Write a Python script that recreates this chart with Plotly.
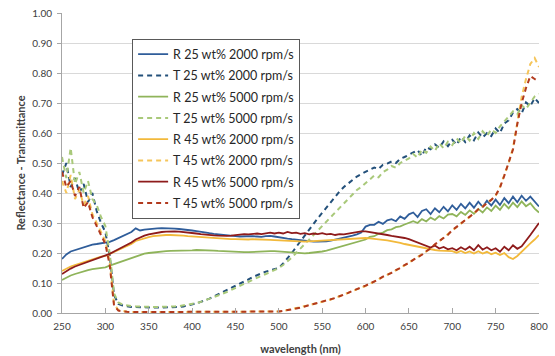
import plotly.graph_objects as go

wavelength = list(range(250, 801, 5))

R25_2000 = [0.180,0.195,0.205,0.210,0.215,0.220,0.225,0.228,0.230,0.232,
 0.233,0.237,0.243,0.250,0.258,0.265,0.270,0.282,0.275,0.278,
 0.280,0.281,0.282,0.283,0.283,0.282,0.281,0.280,0.279,0.277,
 0.275,0.273,0.270,0.268,0.266,0.264,0.262,0.260,0.258,0.257,
 0.256,0.255,0.256,0.257,0.256,0.255,0.254,0.256,0.257,0.255,
 0.252,0.250,0.248,0.246,0.244,0.242,0.240,0.239,0.238,0.238,
 0.238,0.239,0.241,0.244,0.247,0.250,0.254,0.258,0.262,0.268,
 0.288,0.294,0.294,0.304,0.297,0.309,0.313,0.306,0.322,0.314,
 0.329,0.335,0.320,0.340,0.346,0.330,0.349,0.336,0.354,0.339,
 0.359,0.344,0.364,0.349,0.368,0.351,0.371,0.354,0.374,0.358,
 0.378,0.360,0.383,0.366,0.388,0.369,0.391,0.374,0.388,0.370,
 0.355]

T25_2000 = [0.460,0.500,0.420,0.450,0.400,0.430,0.370,0.400,0.340,0.300,
 0.270,0.190,0.060,0.030,0.025,0.022,0.020,0.020,0.019,0.019,
 0.018,0.018,0.018,0.018,0.018,0.018,0.019,0.020,0.022,0.025,
 0.028,0.032,0.037,0.042,0.048,0.055,0.062,0.068,0.075,0.082,
 0.090,0.097,0.104,0.112,0.120,0.125,0.132,0.138,0.142,0.146,
 0.150,0.165,0.182,0.200,0.220,0.240,0.260,0.280,0.298,0.316,
 0.334,0.352,0.370,0.390,0.405,0.420,0.432,0.445,0.455,0.463,
 0.470,0.476,0.485,0.480,0.494,0.498,0.505,0.500,0.514,0.520,
 0.527,0.534,0.543,0.524,0.553,0.546,0.562,0.551,0.572,0.556,
 0.577,0.561,0.587,0.570,0.592,0.576,0.602,0.585,0.600,0.590,
 0.615,0.600,0.632,0.642,0.668,0.680,0.665,0.702,0.690,0.716,
 0.700]

R25_5000 = [0.110,0.118,0.125,0.130,0.135,0.140,0.143,0.146,0.148,0.150,
 0.152,0.158,0.163,0.168,0.173,0.178,0.183,0.190,0.195,0.198,
 0.200,0.202,0.204,0.205,0.206,0.207,0.207,0.208,0.208,0.209,
 0.209,0.210,0.210,0.210,0.209,0.208,0.207,0.206,0.205,0.205,
 0.204,0.204,0.203,0.203,0.204,0.204,0.205,0.205,0.206,0.206,
 0.205,0.204,0.203,0.202,0.200,0.200,0.199,0.200,0.201,0.203,
 0.205,0.208,0.212,0.216,0.220,0.224,0.228,0.232,0.236,0.240,
 0.245,0.254,0.256,0.264,0.268,0.276,0.279,0.286,0.289,0.295,
 0.300,0.306,0.300,0.313,0.305,0.318,0.310,0.323,0.315,0.328,
 0.330,0.322,0.337,0.327,0.342,0.331,0.347,0.335,0.352,0.340,
 0.358,0.344,0.364,0.349,0.368,0.353,0.372,0.356,0.366,0.348,
 0.335]

T25_5000 = [0.520,0.450,0.550,0.430,0.470,0.400,0.440,0.380,0.360,0.320,
 0.290,0.200,0.065,0.035,0.028,0.025,0.023,0.022,0.021,0.020,
 0.020,0.020,0.020,0.020,0.020,0.021,0.022,0.023,0.025,0.027,
 0.030,0.033,0.037,0.042,0.047,0.052,0.058,0.064,0.070,0.077,
 0.084,0.090,0.097,0.104,0.110,0.117,0.124,0.130,0.137,0.143,
 0.150,0.160,0.172,0.185,0.200,0.215,0.230,0.245,0.260,0.275,
 0.290,0.305,0.320,0.335,0.350,0.365,0.380,0.395,0.410,0.420,
 0.432,0.445,0.458,0.452,0.470,0.478,0.490,0.484,0.500,0.508,
 0.515,0.530,0.518,0.545,0.534,0.555,0.540,0.566,0.549,0.571,
 0.560,0.582,0.566,0.591,0.575,0.600,0.580,0.606,0.590,0.612,
 0.600,0.622,0.640,0.656,0.672,0.662,0.692,0.680,0.702,0.722,
 0.730]

R45_2000 = [0.140,0.148,0.155,0.160,0.165,0.170,0.175,0.180,0.184,0.188,
 0.190,0.196,0.203,0.210,0.217,0.224,0.230,0.240,0.245,0.250,
 0.253,0.256,0.258,0.259,0.260,0.260,0.260,0.259,0.258,0.256,
 0.255,0.253,0.252,0.250,0.249,0.248,0.247,0.247,0.246,0.246,
 0.246,0.245,0.245,0.245,0.246,0.246,0.245,0.244,0.244,0.243,
 0.242,0.241,0.240,0.240,0.239,0.238,0.238,0.239,0.240,0.241,
 0.242,0.243,0.244,0.245,0.246,0.247,0.248,0.249,0.250,0.250,
 0.250,0.249,0.248,0.246,0.244,0.242,0.240,0.237,0.234,0.230,
 0.227,0.224,0.220,0.218,0.215,0.212,0.210,0.208,0.207,0.205,
 0.206,0.201,0.207,0.200,0.205,0.198,0.206,0.198,0.204,0.196,
 0.201,0.193,0.200,0.186,0.180,0.190,0.205,0.218,0.232,0.245,
 0.260]

T45_2000 = [0.440,0.400,0.460,0.380,0.410,0.360,0.390,0.330,0.300,0.270,
 0.240,0.170,0.030,0.010,0.006,0.004,0.003,0.003,0.003,0.003,
 0.003,0.003,0.003,0.003,0.003,0.003,0.003,0.003,0.003,0.003,
 0.003,0.003,0.003,0.003,0.003,0.003,0.003,0.003,0.003,0.003,
 0.003,0.003,0.003,0.003,0.003,0.003,0.003,0.003,0.004,0.004,
 0.005,0.007,0.010,0.012,0.015,0.018,0.022,0.026,0.030,0.033,
 0.037,0.041,0.045,0.050,0.055,0.061,0.067,0.073,0.080,0.085,
 0.090,0.097,0.105,0.112,0.120,0.127,0.135,0.142,0.150,0.159,
 0.168,0.176,0.185,0.195,0.205,0.216,0.228,0.240,0.250,0.262,
 0.275,0.288,0.298,0.310,0.320,0.333,0.345,0.355,0.365,0.378,
 0.390,0.420,0.460,0.500,0.550,0.640,0.720,0.780,0.830,0.850,
 0.820]

R45_5000 = [0.130,0.140,0.148,0.155,0.160,0.165,0.170,0.175,0.180,0.185,
 0.190,0.197,0.205,0.212,0.220,0.228,0.235,0.245,0.252,0.258,
 0.262,0.265,0.268,0.270,0.271,0.272,0.272,0.271,0.270,0.268,
 0.267,0.265,0.263,0.261,0.260,0.259,0.258,0.257,0.257,0.258,
 0.260,0.262,0.263,0.262,0.264,0.265,0.263,0.266,0.268,0.265,
 0.268,0.265,0.270,0.266,0.268,0.264,0.266,0.262,0.265,0.263,
 0.266,0.262,0.264,0.260,0.263,0.262,0.265,0.268,0.270,0.272,
 0.272,0.270,0.268,0.265,0.262,0.260,0.257,0.255,0.252,0.250,
 0.246,0.240,0.235,0.228,0.222,0.218,0.225,0.215,0.220,0.212,
 0.216,0.209,0.219,0.211,0.221,0.209,0.226,0.211,0.219,0.209,
 0.216,0.204,0.221,0.209,0.226,0.214,0.222,0.240,0.260,0.280,
 0.300]

T45_5000 = [0.470,0.420,0.440,0.390,0.420,0.350,0.370,0.320,0.290,0.260,
 0.230,0.160,0.025,0.008,0.005,0.004,0.003,0.003,0.003,0.003,
 0.003,0.003,0.003,0.003,0.003,0.003,0.003,0.003,0.003,0.003,
 0.003,0.003,0.003,0.003,0.003,0.003,0.003,0.003,0.003,0.003,
 0.003,0.003,0.003,0.003,0.003,0.003,0.003,0.003,0.004,0.004,
 0.005,0.007,0.009,0.012,0.015,0.018,0.022,0.026,0.029,0.033,
 0.037,0.041,0.046,0.050,0.056,0.061,0.067,0.074,0.079,0.085,
 0.091,0.098,0.104,0.112,0.121,0.127,0.134,0.143,0.150,0.160,
 0.167,0.177,0.186,0.194,0.206,0.215,0.229,0.239,0.251,0.261,
 0.276,0.287,0.299,0.309,0.321,0.332,0.346,0.354,0.366,0.377,
 0.392,0.418,0.458,0.498,0.545,0.630,0.700,0.750,0.790,0.780,
 0.770]

names = ["R 25 wt% 2000 rpm/s", "T 25 wt% 2000 rpm/s",
         "R 25 wt% 5000 rpm/s", "T 25 wt% 5000 rpm/s",
         "R 45 wt% 2000 rpm/s", "T 45 wt% 2000 rpm/s",
         "R 45 wt% 5000 rpm/s", "T 45 wt% 5000 rpm/s"]
series = [R25_2000, T25_2000, R25_5000, T25_5000,
          R45_2000, T45_2000, R45_5000, T45_5000]
colors = ["#2f5d9a", "#23507a", "#8fb45a", "#a9c97a",
          "#f2b93b", "#f5c55a", "#8e1b1b", "#b23a1e"]
dashes = ["solid", "5px,4px", "solid", "5px,4px",
          "solid", "5px,4px", "solid", "5px,4px"]

fig = go.Figure()
for i, (n, s, c, d) in enumerate(zip(names, series, colors, dashes)):
    fig.add_trace(go.Scatter(
        x=wavelength, y=s, name=n, mode="lines",
        line=dict(color=c, width=1.8 if d == "solid" else 2, dash=d),
        legendgroup=f"g{i}",
    ))

font_family = "Lato, 'Open Sans', sans-serif"
fig.update_layout(
    width=555, height=356,
    margin=dict(l=62, r=16, t=13, b=43),
    paper_bgcolor="white", plot_bgcolor="white",
    font=dict(family=font_family, size=10, color="#404040"),
    showlegend=True,
    legend=dict(
        x=0.147, y=0.915, xanchor="left", yanchor="top",
        bgcolor="white", bordercolor="#595959", borderwidth=1,
        font=dict(family=font_family, size=12.5, color="#262626"),
        tracegroupgap=2, itemwidth=30,
    ),
    xaxis=dict(
        range=[250, 800], tickmode="linear", tick0=250, dtick=50,
        showgrid=False, zeroline=False, automargin=False,
        showline=True, linecolor="#a6a6a6", linewidth=1,
        ticks="inside", ticklen=5, tickcolor="#a6a6a6",
        ticklabelstandoff=4,
        title=dict(text="<b>wavelength (nm)</b>", standoff=14,
                   font=dict(family=font_family, size=11, color="#404040")),
    ),
    yaxis=dict(
        range=[0, 1.0], tickmode="linear", tick0=0, dtick=0.1,
        tickformat=".2f", automargin=False,
        showgrid=True, gridcolor="#d9d9d9", gridwidth=1, zeroline=False,
        showline=True, linecolor="#a6a6a6", linewidth=1,
        ticks="outside", ticklen=4, tickcolor="#a6a6a6",
        ticklabelstandoff=3,
        title=dict(text="<b>Reflectance - Transmittance</b>", standoff=4,
                   font=dict(family=font_family, size=11, color="#404040")),
    ),
)

fig.write_html("out.html")
